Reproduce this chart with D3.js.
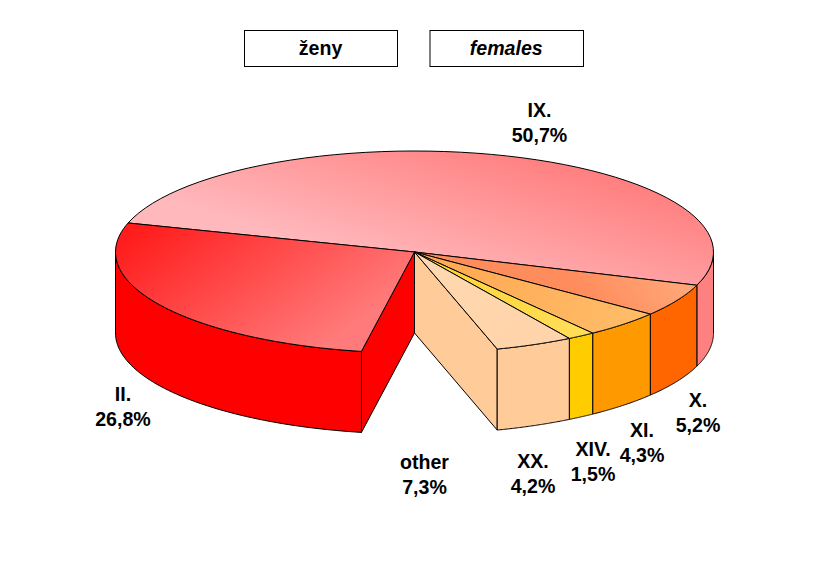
<!DOCTYPE html>
<html><head><meta charset="utf-8">
<script src="https://cdn.jsdelivr.net/npm/d3@7"></script>
<style>html,body{margin:0;padding:0;background:#fff}svg{display:block}
text{font-family:"Liberation Sans",Arial,sans-serif;font-weight:bold;font-size:19.6px;fill:#000;text-anchor:middle}</style>
</head><body><div id="c"></div>
<script>
const categories=["IX.","X.","XI.","XIV.","XX.","other","II."];
const shares=[50.7,5.2,4.3,1.5,4.2,7.3,26.8];
const shareLabels=["50,7%","5,2%","4,3%","1,5%","4,2%","7,3%","26,8%"];
const wallColors=["#ff8080","#ff6600","#ff9900","#ffcc00","#ffcc99",null,"#ff0000"];
const topStops=[["#ffb8bc","#ff8080"],["#ff8c5c","#ffa576"],["#ffaa55","#ffbb66"],["#ffd530","#ffdd55"],["#ffd8b0","#ffd4aa"],null,["#ff1c1c","#ff7a7a"]];
const gradAxes=[[300,240,343,98],[600,315,660,265],[460,270,620,320],[430,260,560,340],[430,265,500,345],null,[170,205,290,370]];
const labelAt=[[539.5,117],[698,407],[642,437],[593,456],[533,468],[424.5,469],[123,401]];
const titles=["ženy","females"];
const titleBoxes=[[244,30,153,36],[429.5,30,153.5,36]];

const W=822,H=585,cx=414.5,cy=252,rx=299,ry=101,depth=81;
const X=d3.scaleLinear().domain([-1,1]).range([cx-rx,cx+rx]);
const Y=d3.scaleLinear().domain([-1,1]).range([cy-ry,cy+ry]);
const svg=d3.select("#c").append("svg").attr("width",W).attr("height",H);
const defs=svg.append("defs");
const pie=d3.pie().sort(null).value(d=>d).startAngle(286.7*Math.PI/180).endAngle((286.7+360)*Math.PI/180);
const arcs=pie(shares);
const rim=(a,dz=0)=>[X(Math.sin(a)),Y(-Math.cos(a))+dz];
const samples=(a0,a1)=>d3.range(0,61).map(i=>a0+(a1-a0)*i/60);
const line=d3.line();
const hub=[X(0),Y(0)];

arcs.forEach((d,i)=>{ if(!topStops[i])return;
  const g=defs.append("linearGradient").attr("id","g"+i).attr("gradientUnits","userSpaceOnUse")
   .attr("x1",gradAxes[i][0]).attr("y1",gradAxes[i][1]).attr("x2",gradAxes[i][2]).attr("y2",gradAxes[i][3]);
  g.append("stop").attr("offset",0).attr("stop-color",topStops[i][0]);
  g.append("stop").attr("offset",1).attr("stop-color",topStops[i][1]);
});
const P=Math.PI,TAU=2*P;
const stroke=sel=>sel.attr("stroke","#000").attr("stroke-width",1).attr("stroke-linejoin","round");
// inner walls
arcs.forEach((d,i)=>{ if(wallColors[i]===null){
  [[arcs[i-1].endAngle,wallColors[i-1]],[arcs[i+1].startAngle,wallColors[i+1]]].forEach(([a,col])=>{
    const r=rim(a);
    svg.append("path").attr("d",line([hub,r,[r[0],r[1]+depth],[hub[0],hub[1]+depth]])+"Z").attr("fill",col).call(stroke);
  });
}});
// outer walls (front half only)
arcs.forEach((d,i)=>{ if(!wallColors[i])return;
  const segs=[[d.startAngle,d.endAngle],[d.startAngle-TAU,d.endAngle-TAU]];
  segs.forEach(([s,e])=>{
    const a0=Math.max(s,P/2),a1=Math.min(e,1.5*P);
    if(a1<=a0)return;
    const top=samples(a0,a1).map(a=>rim(a));
    const bot=samples(a1,a0).map(a=>rim(a,depth));
    svg.append("path").attr("d",line(top.concat(bot))+"Z").attr("fill",wallColors[i]).call(stroke);
  });
});
// tops
arcs.forEach((d,i)=>{ if(!wallColors[i])return;
  const pts=[hub].concat(samples(d.startAngle,d.endAngle).map(a=>rim(a)));
  svg.append("path").attr("d",line(pts)+"Z").attr("fill",`url(#g${i})`).call(stroke);
});
// labels
categories.forEach((c,i)=>{
  svg.append("text").attr("x",labelAt[i][0]).attr("y",labelAt[i][1]).text(c);
  svg.append("text").attr("x",labelAt[i][0]).attr("y",labelAt[i][1]+25).text(shareLabels[i]);
});
// title boxes
titles.forEach((s,i)=>{
  const b=titleBoxes[i];
  svg.append("rect").attr("x",b[0]+.5).attr("y",b[1]+.5).attr("width",b[2]).attr("height",b[3]).attr("fill","#fff").attr("stroke","#000");
  svg.append("text").attr("x",b[0]+b[2]/2).attr("y",b[1]+25).style("font-style",i?"italic":"normal").text(s);
});
</script></body></html>
